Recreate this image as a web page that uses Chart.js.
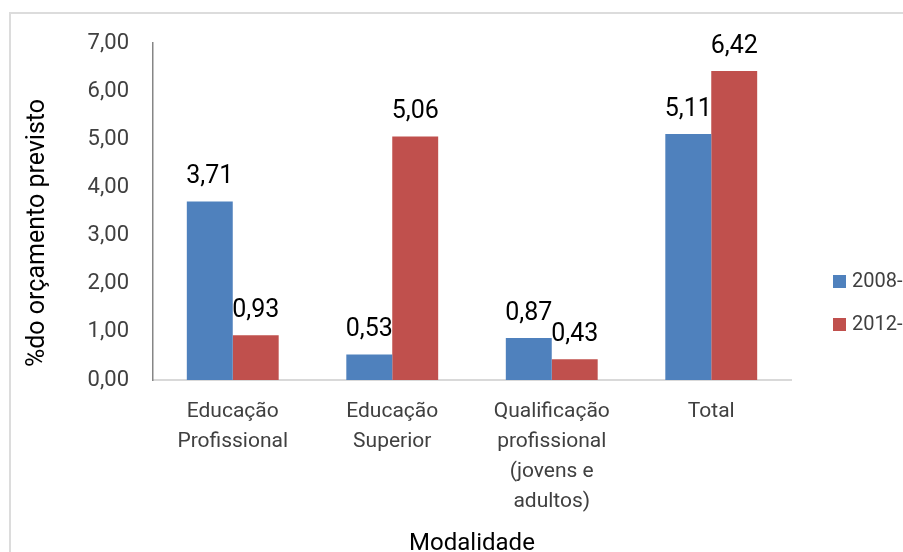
<!DOCTYPE html>
<html>
<head>
<meta charset="utf-8">
<script src="https://cdn.jsdelivr.net/npm/chart.js@4.4.0/dist/chart.umd.min.js"></script>
<style>
  html, body { margin: 0; padding: 0; background: #fff; overflow: hidden; }
  #wrap { width: 903px; height: 552px; overflow: hidden; }
</style>
</head>
<body>
<div id="wrap"><canvas id="myChart" width="903" height="562"></canvas></div>
<script>
// Dados do gráfico
var categorias = [
  ["Educação", "Profissional"],
  ["Educação", "Superior"],
  ["Qualificação", "profissional", "(jovens e", "adultos)"],
  ["Total"]
];
var series = ["2008-", "2012-"];
var valores2008 = [3.71, 0.53, 0.87, 5.11];
var valores2012 = [0.93, 5.06, 0.43, 6.42];
var cores = ["#4F81BD", "#C0504D"];

function virgula(v) { return v.toFixed(2).replace(".", ","); }

// moldura cinza clara
var moldura = {
  id: "moldura",
  beforeDraw: function (chart) {
    var ctx = chart.ctx;
    ctx.save();
    ctx.strokeStyle = "#dcdcdc";
    ctx.lineWidth = 2;
    ctx.strokeRect(10, 13, 1000, 1000);
    ctx.restore();
  }
};

// rótulos de valores sobre as barras
var rotulos = {
  id: "rotulos",
  afterDatasetsDraw: function (chart) {
    var ctx = chart.ctx;
    ctx.save();
    ctx.font = "25px Roboto";
    ctx.fillStyle = "#000";
    ctx.textAlign = "center";
    ctx.textBaseline = "alphabetic";
    chart.data.datasets.forEach(function (ds, i) {
      chart.getDatasetMeta(i).data.forEach(function (bar, j) {
        ctx.fillText(virgula(ds.data[j]), bar.x, bar.y - 18);
      });
    });
    ctx.restore();
  }
};

// título do eixo y e legenda
var extras = {
  id: "extras",
  afterDraw: function (chart) {
    var ctx = chart.ctx;
    ctx.save();
    ctx.translate(38, 233);
    ctx.rotate(-Math.PI / 2);
    ctx.font = "25px Roboto";
    ctx.fillStyle = "#000";
    ctx.textAlign = "center";
    ctx.textBaseline = "middle";
    ctx.fillText("%do orçamento previsto", 0, 0);
    ctx.restore();

    ctx.save();
    ctx.font = "20px Roboto";
    ctx.textBaseline = "middle";
    ctx.textAlign = "left";
    chart.data.datasets.forEach(function (ds, i) {
      var y = 275 + i * 43;
      ctx.fillStyle = ds.backgroundColor;
      ctx.fillRect(833, y, 13, 13);
      ctx.fillStyle = "#404040";
      ctx.fillText(ds.label, 852, y + 7);
    });
    ctx.restore();
  }
};

var config = {
  type: "bar",
  data: {
    labels: categorias,
    datasets: [{
      label: series[0],
      data: valores2008,
      backgroundColor: cores[0],
      categoryPercentage: 0.576,
      barPercentage: 1
    }, {
      label: series[1],
      data: valores2012,
      backgroundColor: cores[1],
      categoryPercentage: 0.576,
      barPercentage: 1
    }]
  },
  options: {
    responsive: false,
    animation: false,
    devicePixelRatio: 1,
    layout: { padding: { left: 0, right: 112, top: 43, bottom: 0 } },
    plugins: {
      legend: { display: false },
      tooltip: { enabled: false }
    },
    scales: {
      x: {
        grid: { display: false, drawTicks: false },
        border: { display: true, color: "#d9d9d9", width: 2 },
        ticks: {
          color: "#404040",
          font: { family: "Roboto", size: 21, lineHeight: 30 / 21 },
          padding: 17,
          maxRotation: 0,
          autoSkip: false
        },
        title: {
          display: true,
          text: "Modalidade",
          color: "#000",
          font: { family: "Roboto", size: 24, lineHeight: 1 },
          padding: { top: 0, bottom: 6 }
        },
        afterFit: function (s) { s.height = 562 - 380; }
      },
      y: {
        min: 0,
        max: 7,
        grid: { display: false, drawTicks: false },
        border: { display: true, color: "#868686", width: 1.5 },
        ticks: {
          stepSize: 1,
          color: "#404040",
          font: { family: "Roboto", size: 22 },
          padding: 24,
          callback: function (v) { return virgula(v); }
        },
        afterFit: function (s) { s.width = 153; }
      }
    }
  },
  plugins: [moldura, rotulos, extras]
};

var myChart = new Chart(document.getElementById("myChart"), config);
</script>
</body>
</html>
